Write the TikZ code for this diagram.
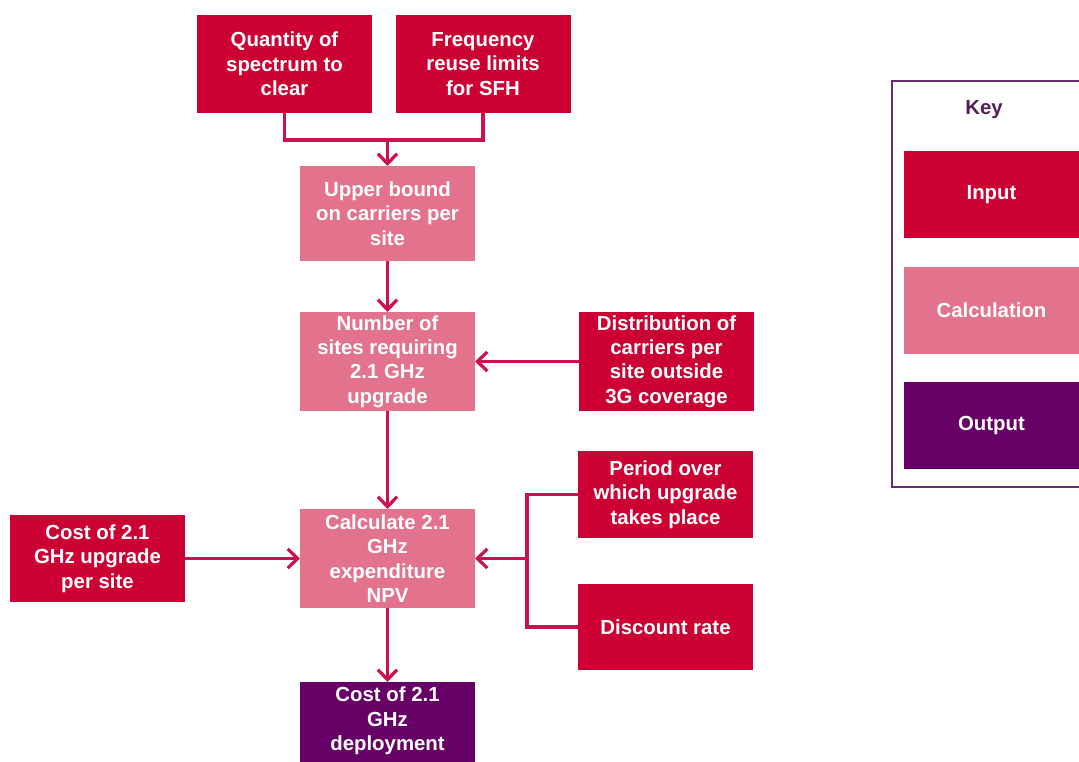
\documentclass[tikz,border=0pt]{standalone}
\usepackage{fontspec}
\setmainfont{Liberation Sans}
\usetikzlibrary{arrows.meta}
\definecolor{FlowInput}{HTML}{CC0033}
\definecolor{FlowCalc}{HTML}{E3738D}
\definecolor{FlowOutput}{HTML}{660066}
\definecolor{FlowLink}{HTML}{CC1050}
\definecolor{FlowKey}{HTML}{6B2A6B}
\definecolor{FlowKeyText}{HTML}{561E56}
\tikzset{
    flow/diagram/.style={
        font=\fontsize{14.5}{17.4}\selectfont\bfseries,
        line cap=butt,
        line join=miter,
        every node/.style={inner sep=2pt, outer sep=0pt}
    },
    flow/box/.style={
        align=center, text=white, draw=none,
        minimum width=4.375cm, minimum height=2.45cm
    },
    flow/input/.style={flow/box, fill=FlowInput},
    flow/calc/.style={flow/box, fill=FlowCalc},
    flow/output/.style={flow/box, fill=FlowOutput},
    flow/link/.style={draw=FlowLink, line width=2.3pt},
    flow/arrow/.style={
        draw=FlowLink, line width=2.3pt,
        -{Straight Barb[length=2.5mm, width=4.8mm]}
    },
    flow/frame/.style={draw=FlowKey, line width=1.3pt}
}
\begin{document}
\begin{tikzpicture}[flow/diagram]
    \useasboundingbox (0,0) rectangle (26.975,-19.05);
    \clip (0,0) rectangle (26.975,-19.05);
    % inputs at the top
    \node[flow/input] (qs) at (7.1125,-1.6) {Quantity of\\spectrum to\\clear};
    \node[flow/input] (fr) at (12.075,-1.6) {Frequency\\reuse limits\\for SFH};
    % main column
    \node[flow/calc, minimum height=2.375cm] (ub) at (9.6875,-5.3375) {Upper bound\\on carriers per\\site};
    \node[flow/calc, minimum height=2.475cm] (ns) at (9.6875,-9.0375) {Number of\\sites requiring\\2.1 GHz\\upgrade};
    \node[flow/calc, minimum height=2.475cm] (np) at (9.6875,-13.9625) {Calculate 2.1\\GHz\\expenditure\\NPV};
    \node[flow/output] (cd) at (9.6875,-18.275) {Cost of 2.1\\GHz\\deployment\\ };
    % side inputs
    \node[flow/input, minimum height=2.475cm] (dc) at (16.6625,-9.0375) {Distribution of\\carriers per\\site outside\\3G coverage};
    \node[flow/input, minimum height=2.175cm] (po) at (16.6375,-12.3625) {Period over\\which upgrade\\takes place};
    \node[flow/input, minimum height=2.15cm] (dr) at (16.6375,-15.675) {Discount rate};
    \node[flow/input, minimum height=2.175cm] (cu) at (2.4375,-13.9625) {Cost of 2.1\\GHz upgrade\\per site};
    % connectors
    \coordinate (topjoin) at (9.6875,-3.5);
    \coordinate (sidejoin) at (13.175,-13.9625);
    \draw[flow/link] (qs.south) |- (topjoin) -| (fr.south);
    \draw[flow/arrow] (topjoin) -- (ub.north);
    \draw[flow/arrow] (ub.south) -- (ns.north);
    \draw[flow/arrow] (dc.west) -- (ns.east);
    \draw[flow/arrow] (ns.south) -- (np.north);
    \draw[flow/link] (po.west) -| (sidejoin) |- (dr.west);
    \draw[flow/arrow] (sidejoin) -- (np.east);
    \draw[flow/arrow] (cu.east) -- (np.west);
    \draw[flow/arrow] (np.south) -- (cd.north);
    % key
    \draw[flow/frame] (22.3,-2.025) rectangle (27.5,-12.175);
    \node[text=FlowKeyText] (key) at (24.6,-2.75) {Key};
    \node[flow/input, minimum height=2.175cm] (kin) at (24.7875,-4.8625) {Input};
    \node[flow/calc, minimum height=2.175cm] (kca) at (24.7875,-7.7625) {Calculation};
    \node[flow/output, minimum height=2.175cm] (kou) at (24.7875,-10.6375) {Output};
\end{tikzpicture}
\end{document}
